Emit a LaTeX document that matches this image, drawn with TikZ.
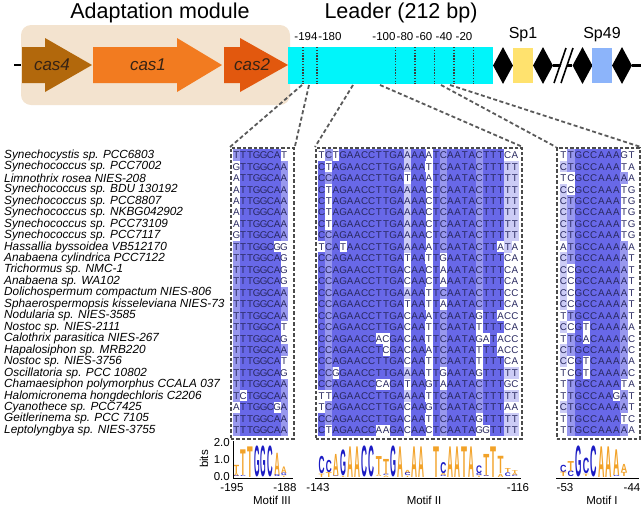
\documentclass[tikz,border=0pt]{standalone}
\usepackage{fontspec}
\setmainfont{Liberation Sans}
\usepackage{graphicx}
\usepackage{xstring}
\usetikzlibrary{shapes.geometric}

\definecolor{beige}{RGB}{243,227,207}
\definecolor{cfour}{RGB}{178,104,12}
\definecolor{cone}{RGB}{242,123,32}
\definecolor{ctwo}{RGB}{226,88,14}
\definecolor{genetext}{RGB}{55,35,20}
\definecolor{leadercyan}{RGB}{0,245,250}
\definecolor{spyellow}{RGB}{255,226,110}
\definecolor{spblue}{RGB}{140,180,250}
\definecolor{posgray}{RGB}{60,60,60}
\definecolor{idhigh}{RGB}{104,104,232}
\definecolor{idmid}{RGB}{152,152,238}
\definecolor{idlow}{RGB}{204,204,246}
\definecolor{seqtext}{RGB}{40,40,95}
\definecolor{logoat}{RGB}{242,162,40}
\definecolor{logocg}{RGB}{28,28,196}
\definecolor{boxgray}{RGB}{75,75,75}
\definecolor{linkgray}{RGB}{90,90,90}

\newcount\cntA \newcount\cntC \newcount\cntG \newcount\cntT \newcount\cntmax

\tikzset{
  headtitle/.style={font=\fontsize{21.5}{22}\selectfont, inner sep=0},
  genelabel/.style={font=\itshape\fontsize{17}{17}\selectfont, text=genetext, inner sep=0},
  poslabel/.style={font=\fontsize{11.5}{12}\selectfont, inner sep=0},
  posline/.style={draw=posgray, line width=1.5pt, dash pattern=on 1.4pt off 1.4pt},
  mainline/.style={line width=2.4pt},
  repeatdia/.style={diamond, fill=black, minimum width=20pt, minimum height=37pt, inner sep=0},
  spacerbox/.style={minimum width=20pt, minimum height=35pt, inner sep=0},
  splabel/.style={font=\fontsize{16}{16}\selectfont, inner sep=0},
  species/.style={font=\itshape\fontsize{11.8}{12}\selectfont, anchor=west, inner sep=0},
  seqletter/.style={font=\fontsize{9.8}{10}\selectfont, text=seqtext, inner sep=0},
  logoletter/.style={inner sep=0, outer sep=0, anchor=south, font=\bfseries},
  motifbox/.style={draw=boxgray, line width=1.8pt, dash pattern=on 3.5pt off 2pt, anchor=north west, inner sep=0},
  linkline/.style={draw=linkgray, line width=1.8pt, dash pattern=on 4pt off 2.5pt},
  axisline/.style={line width=0.9pt},
  axlabel/.style={font=\fontsize{11.5}{12}\selectfont, inner sep=0},
}

\newcommand\genearrow[4]{\fill[#4] (#1,47) -- (#2,47) -- (#2,38) -- (#3,65) -- (#2,92) -- (#2,83) -- (#1,83) -- cycle;}

\newcommand\specieslist{Synechocystis sp. PCC6803,Synechococcus sp. PCC7002,Limnothrix rosea NIES-208,Synechococcus sp. BDU 130192,Synechococcus sp. PCC8807,Synechococcus sp. NKBG042902,Synechococcus sp. PCC73109,Synechococcus sp. PCC7117,Hassallia byssoidea VB512170,Anabaena cylindrica PCC7122,Trichormus sp. NMC-1,Anabaena sp. WA102,Dolichospermum compactum NIES-806,Sphaerospermopsis kisseleviana NIES-73,Nodularia sp. NIES-3585,Nostoc sp. NIES-2111,Calothrix parasitica NIES-267,Hapalosiphon sp. MRB220,Nostoc sp. NIES-3756,Oscillatoria sp. PCC 10802,Chamaesiphon polymorphus CCALA 037,Halomicronema hongdechloris C2206,Cyanothece sp. PCC7425,Geitlerinema sp. PCC 7105,Leptolyngbya sp. NIES-3755}

\newcommand\seqIII{TTTGGCAT,GTTGGCAA,ATTGGCAA,ATTGGCAA,ATTGGCAA,ATTGGCAA,ATTGGCAA,GTTGGCAA,TTTGGCGG,TTTGGCAG,TTTGGCAG,TTTGGCAG,TTTGGCAA,TTTGGCAA,TTTGGCAA,TTTGGCAT,TTTGGCAG,TTTGGCAA,TTTGGCAT,TTTGGCAG,TTTGGCAA,TCTGGCAA,ATTGGCGA,TTTGGCAA,TTTGGCAA}

\newcommand\seqII{TCTGAACCTTGAAAAATCAATACTTTCA,CTAGAACCTTGAAAATTCAATACTTTTT,CCAGAACCTTGATAAATCAATACTTTTT,CTAGAACCTTGAAAACTCAATACTTTTT,CTAGAACCTTGAAAACTCAATACTTTTT,CTAGAACCTTGAAAACTCAATACTTTTT,CTAGAACCTTGAAAACTCAATACTTTTT,CCAGAACCTTGAAAACTCAATACTTTTT,TCATAACCTTGAAAAATCAATACTTATA,CCAGAACCTTGATAATTGAATACTTTCA,CCAGAACCTTGACAACTAAATACTTTCA,CCAGAACCTTGACAACTAAATACTTTCA,CCAGAACCTTGAAAATTCAATACTTTCC,CCAGAACCTTGATAATTAAATACTTTCA,CCAGAACCTTGACAAATCAATAGTTACC,CCAGAACCTTGACAATTCAATATTTTCA,CCAGAACCACGACAATTCAATAGATACC,CCAGAACCTCGACAAATCAATATTTACC,CCAGAACCTTGACAATTCAATATTTTCA,CCGGAACCTTGAAAATTGAATAGTTTTT,CCAGAACCCAGATAAGTAAATACTTTGC,TTAGAACCTTGAAAATTCAATACTTTTT,TCAGAACCTTGACAAGTCAATACTTTAA,CCAGAACCTTGACAATTCAATAGTTTTT,CTAGAACCAAGACAACTCAATAGGTTTT}

\newcommand\seqI{TTGCCAAAGT,CTGCCAAATA,TCGCCAAAAA,CCGCCAAATG,CTGCCAAATG,CTGCCAAATG,CTGCCAAATG,CTGCCAAATG,ATGCCAAAAA,CTGCCAAAAT,CCGCCAAAAT,CCGCCAAAAT,CCGCCAAAAT,CCGCCAAAAT,TTGCCAAAAT,CCGTCAAAAA,TTGACAAAAC,CTGCCAAAAC,CCGTCAAAAA,TCGTCAAAAC,TTGCCAAATA,TTGCCAAGAT,CTGCCAAAAT,TTGCCAAATC,TTGCCAAAAA}

\newcommand\drawmotif[5]{%
  \pgfmathsetmacro\lw{#4-1.2}%
  \foreach \cc in {1,...,#3}{%
    \global\cntA=0 \global\cntC=0 \global\cntG=0 \global\cntT=0
    \foreach \sq in #5{%
      \StrChar{\sq}{\cc}[\chr]%
      \global\advance\csname cnt\chr\endcsname by 1
    }%
    \def\best{A}\cntmax=\cntA
    \ifnum\cntC<\cntmax\else\def\best{C}\cntmax=\cntC\fi
    \ifnum\cntG<\cntmax\else\def\best{G}\cntmax=\cntG\fi
    \ifnum\cntT<\cntmax\else\def\best{T}\cntmax=\cntT\fi
    \def\cellcol{white}%
    \ifnum\cntmax>10 \def\cellcol{idlow}\fi
    \ifnum\cntmax>15 \def\cellcol{idmid}\fi
    \ifnum\cntmax>20 \def\cellcol{idhigh}\fi
    \foreach \sq [count=\rr from 0] in #5{%
      \StrChar{\sq}{\cc}[\chr]%
      \edef\tmpa{\chr}\edef\tmpb{\best}%
      \ifx\tmpa\tmpb
        \fill[\cellcol] ({#2+(\cc-1)*#4},{149.3+\rr*11.46}) rectangle ++(#4+0.25,11.7);
      \fi
      \node[seqletter] (#1-\cc-\rr) at ({#2+(\cc-0.5)*#4},{155.3+\rr*11.46}) {\chr};
    }%
    \pgfmathsetmacro\ic{max(0,2+(\the\cntA/25*ln(\the\cntA/25+0.0001)+\the\cntC/25*ln(\the\cntC/25+0.0001)+\the\cntG/25*ln(\the\cntG/25+0.0001)+\the\cntT/25*ln(\the\cntT/25+0.0001))/ln(2)-0.087)}%
    \pgfmathsetmacro\hA{\the\cntA/25*\ic*16}%
    \pgfmathsetmacro\hC{\the\cntC/25*\ic*16}%
    \pgfmathsetmacro\hG{\the\cntG/25*\ic*16}%
    \pgfmathsetmacro\hT{\the\cntT/25*\ic*16}%
    \pgfmathsetmacro\kA{\hA+0.001}%
    \pgfmathsetmacro\kC{\hC+0.002}%
    \pgfmathsetmacro\kG{\hG+0.003}%
    \pgfmathsetmacro\kT{\hT+0.004}%
    \pgfmathsetmacro\oA{\hC*(\kC<\kA)+\hG*(\kG<\kA)+\hT*(\kT<\kA)}%
    \pgfmathsetmacro\oC{\hA*(\kA<\kC)+\hG*(\kG<\kC)+\hT*(\kT<\kC)}%
    \pgfmathsetmacro\oG{\hA*(\kA<\kG)+\hC*(\kC<\kG)+\hT*(\kT<\kG)}%
    \pgfmathsetmacro\oT{\hA*(\kA<\kT)+\hC*(\kC<\kT)+\hG*(\kG<\kT)}%
    \foreach \lt/\ltcol in {A/logoat,C/logocg,G/logocg,T/logoat}{%
      \edef\hh{\csname h\lt\endcsname}%
      \edef\oo{\csname o\lt\endcsname}%
      \pgfmathtruncatemacro\drawit{\hh>0.9}%
      \ifnum\drawit=1
        \node[logoletter, text=\ltcol] (#1-logo-\cc-\lt) at ({#2+(\cc-0.5)*#4},{477-\oo}) {\resizebox{\lw pt}{\hh pt}{\lt}};
      \fi
    }%
  }%
}

\begin{document}
\begin{tikzpicture}[x=1pt, y=-1pt]
  \useasboundingbox (0,0) rectangle (642,507);

  \draw[mainline] (14,65) -- (22,65);
  \fill[beige, rounded corners=10pt] (21,25) rectangle (290,105);
  \genearrow{22}{45}{92}{cfour}
  \genearrow{93}{177}{222}{cone}
  \genearrow{224}{240}{288}{ctwo}
  \node[genelabel] (cas4) at (52,65) {cas4};
  \node[genelabel] (cas1) at (148,65) {cas1};
  \node[genelabel] (cas2) at (252,65) {cas2};
  \node[headtitle] (adapt) at (160,13) {Adaptation module};
  \node[headtitle] (leadtitle) at (401,13) {Leader (212 bp)};

  \node[fill=leadercyan, minimum width=205pt, minimum height=37pt, inner sep=0, anchor=north west] (leader) at (288,47) {};
  \foreach \p in {-194,-180,-100,-80,-60,-40,-20}
    \draw[posline] ({285.5+(212+\p)*0.98},47) -- ++(0,37);
  \foreach \p/\x in {-194/306,-180/330,-100/384,-80/405,-60/424,-40/444,-20/464}
    \node[poslabel] (pos\p) at (\x,37) {\p};

  \node[repeatdia] (d1) at (503,65.5) {};
  \node[spacerbox, fill=spyellow] (sp1) at (523,65.5) {};
  \node[repeatdia] (d2) at (543,65.5) {};
  \node[repeatdia] (d3) at (582.5,65.5) {};
  \node[spacerbox, fill=spblue] (sp49) at (602,65.5) {};
  \node[repeatdia] (d4) at (622,65.5) {};
  \coordinate (rightend) at (641,65.5);
  \draw[mainline] (d2.east) -- (d3.west);
  \draw[mainline] (d4.east) -- (rightend);
  \fill[white] (555,83) -- (561,83) -- (573,48) -- (567,48) -- cycle;
  \draw[line width=1.6pt] (554,83) -- (566,48) (561,83) -- (573,48);
  \node[splabel] (sp1lab) at (523,35) {Sp1};
  \node[splabel] (sp49lab) at (602,35) {Sp49};

  \foreach \nm [count=\spi from 0] in \specieslist
    \node[species] (sp-\spi) at (4,{155.3+\spi*11.46}) {\nm};

  \drawmotif{III}{233}{8}{6.8}{\seqIII}
  \drawmotif{II}{318}{28}{7.16}{\seqII}
  \drawmotif{I}{559.5}{10}{7.6}{\seqI}

  \node[motifbox, minimum width=63pt, minimum height=291pt] (boxIII) at (230,147) {};
  \node[motifbox, minimum width=206pt, minimum height=291pt] (boxII) at (315,147) {};
  \node[motifbox, minimum width=83pt, minimum height=291pt] (boxI) at (556,147) {};

  \coordinate (m3a) at (302,85);
  \coordinate (m3b) at (309,85);
  \coordinate (m2a) at (353,85);
  \coordinate (m2b) at (380,85);
  \coordinate (m1a) at (441,85);
  \coordinate (m1b) at (450,85);
  \draw[linkline] (m3a) -- (boxIII.north west);
  \draw[linkline] (m3b) -- (boxIII.north east);
  \draw[linkline] (m2a) -- (boxII.north west);
  \draw[linkline] (m2b) -- (boxII.north east);
  \draw[linkline] (m1a) -- (boxI.north west);
  \draw[linkline] (m1b) -- (boxI.north east);

  \draw[axisline] (233,441) -- (233,478) -- (293,478);
  \draw[axisline] (315,478) -- (521,478);
  \draw[axisline] (556,478) -- (639,478);
  \node[axlabel, anchor=east] (bits2) at (230,443) {2.0};
  \node[axlabel, anchor=east] (bits1) at (230,460) {1.0};
  \node[axlabel, anchor=east] (bits0) at (230,477) {0.0};
  \node[axlabel, rotate=90] (bitslab) at (204,459) {bits};
  \node[axlabel] (t195) at (232,488) {-195};
  \node[axlabel] (t188) at (285,488) {-188};
  \node[axlabel] (t143) at (318,488) {-143};
  \node[axlabel] (t116) at (518,488) {-116};
  \node[axlabel] (t53) at (565,488) {-53};
  \node[axlabel] (t44) at (632,488) {-44};
  \node[axlabel] (motIII) at (272,500) {Motif III};
  \node[axlabel] (motII) at (424,500) {Motif II};
  \node[axlabel] (motI) at (602,500) {Motif I};
\end{tikzpicture}
\end{document}
